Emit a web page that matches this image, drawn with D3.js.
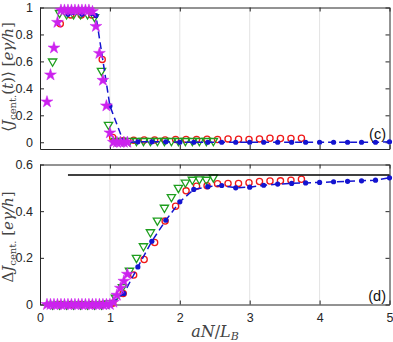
<!DOCTYPE html>
<html>
<head>
<meta charset="utf-8">
<script src="https://cdn.jsdelivr.net/npm/d3@7"></script>
<style>
  body { margin: 0; background: #fff; }
  text { font-family: "Liberation Sans", Arial, sans-serif; }
  .math { font-family: "DejaVu Serif", "Liberation Serif", serif; }
</style>
</head>
<body>
<div id="chart"></div>
<script>
// data
var starX = [0.1,0.15,0.2,0.25,0.3,0.35,0.4,0.45,0.5,0.55,0.6,0.65,0.7,0.75,0.8,0.85,0.9,0.95,1.0,1.05,1.1,1.15,1.2,1.25];
var starTop = [0.30,0.50,0.70,0.89,0.98,0.98,0.98,0.98,0.98,0.98,0.98,0.98,0.98,0.97,0.86,0.66,0.46,0.27,0.07,0.0,0.0,0.0,0.0,0.0];
var starBot = [0,0,0,0,0,0,0,0,0,0,0,0,0,0,0,0,0,0,0,0.01,0.04,0.07,0.10,0.13];

var greenX = [0.18,0.28,0.38,0.48,0.58,0.68,0.78,0.88,0.98,1.08,1.18,1.28,1.38,1.48,1.58,1.68,1.78,1.88,1.98,2.08,2.18,2.28,2.38,2.48];
var greenTop = [0.60,0.96,0.95,0.95,0.95,0.95,0.93,0.53,0.13,0.01,0.01,0.01,0.01,0.01,0.01,0.01,0.01,0.01,0.01,0.01,0.01,0.01,0.01,0.01];
var greenBot = [0,0,0,0,0,0,0,0,0.005,0.03,0.075,0.145,0.20,0.25,0.31,0.36,0.415,0.461,0.50,0.523,0.535,0.537,0.535,0.545];

var redX = [0.29,0.44,0.59,0.74,0.89,1.04,1.19,1.34,1.49,1.64,1.79,1.94,2.09,2.24,2.39,2.54,2.69,2.84,2.99,3.14,3.29,3.44,3.59,3.74];
var redTop = [0.88,0.945,0.945,0.945,0.615,0.035,0.012,0.015,0.017,0.017,0.017,0.02,0.02,0.02,0.022,0.02,0.025,0.022,0.02,0.025,0.03,0.028,0.028,0.03];
var redBot = [0,0,0,0,0,0.005,0.047,0.126,0.193,0.266,0.358,0.421,0.487,0.507,0.509,0.518,0.519,0.519,0.522,0.527,0.529,0.530,0.533,0.537];

var blueX = [0.4,0.6,0.8,1.0,1.2,1.4,1.6,1.8,2.0,2.2,2.4,2.6,2.8,3.0,3.2,3.4,3.6,3.8,4.0,4.2,4.4,4.6,4.8,5.0];
var blueTop = [0.95,0.95,0.94,0.27,-0.003,0.003,0.003,0.003,0.0,0.0,0.0,0.0,0.0,0.0,0.0,0.0,0.0,0.0,0.0,0.0,0.0,0.0,0.0,0.003];
var blueBot = [0,0,0,0,0.047,0.161,0.271,0.361,0.44,0.493,0.505,0.51,0.50,0.503,0.511,0.516,0.519,0.521,0.523,0.526,0.528,0.53,0.533,0.543];

var xTicks = [0,1,2,3,4,5];
var topTicks = [0,0.2,0.4,0.6,0.8,1];
var botTicks = [0,0.2,0.4,0.6];
var limitLine = {x0: 0.4, x1: 5, y: 0.555};

// svg + layout
var svgWidth = 393;
var svgHeight = 342;

var svg = d3.select("#chart")
    .append("svg")
    .attr("width", svgWidth)
    .attr("height", svgHeight);

var xScale = d3.scaleLinear().domain([0, 5]).range([40, 389.5]);
var yTop = d3.scaleLinear().domain([-0.05, 1]).range([149, 7.5]);
var yBot = d3.scaleLinear().domain([0, 0.6]).range([304.5, 164.5]);

var colors = {red: "#f01818", green: "#1e9e1e", blue: "#1414d0", star: "#cc22ee"};

function drawPanel(yScale, yTicks, series, showXLabels) {
    var g = svg.append("g");
    var y0 = yScale.range()[0], y1 = yScale.range()[1];

    // vertical grid
    g.selectAll(".grid").data([1,2,3,4]).enter().append("line")
        .attr("x1", d => xScale(d)).attr("x2", d => xScale(d))
        .attr("y1", y0).attr("y2", y1)
        .attr("stroke", "#e3e3e3").attr("stroke-width", 1);

    // axes, ticks pointing in, mirrored on all sides
    var left = g.append("g").attr("transform", "translate(40,0)")
        .call(d3.axisLeft(yScale).tickValues(yTicks).tickSizeInner(-4).tickSizeOuter(0)
            .tickPadding(7).tickFormat(d3.format("~g")));
    var right = g.append("g").attr("transform", "translate(389.5,0)")
        .call(d3.axisRight(yScale).tickValues(yTicks).tickSizeInner(-4).tickSizeOuter(0).tickFormat(""));
    var bottom = g.append("g").attr("transform", `translate(0,${y0})`)
        .call(d3.axisBottom(xScale).tickValues(xTicks).tickSizeInner(-4).tickSizeOuter(0)
            .tickPadding(9).tickFormat(showXLabels ? d3.format("d") : ""));
    var top = g.append("g").attr("transform", `translate(0,${y1})`)
        .call(d3.axisTop(xScale).tickValues(xTicks).tickSizeInner(-4).tickSizeOuter(0).tickFormat(""));

    [left, right, bottom, top].forEach(function(a) {
        a.selectAll("path").attr("stroke", "#262626");
        a.selectAll("line").attr("stroke", "#262626");
        a.selectAll("text").attr("font-size", 12.5).attr("fill", "#262626")
            .style("font-family", "'Liberation Sans', Arial, sans-serif");
    });

    var marks = g.append("g");

    // red open circles
    marks.selectAll(".red").data(series.red).enter().append("circle")
        .attr("cx", d => xScale(d[0])).attr("cy", d => yScale(d[1]))
        .attr("r", 3.1).attr("fill", "none")
        .attr("stroke", colors.red).attr("stroke-width", 1.3);

    // green down triangles
    marks.selectAll(".green").data(series.green).enter().append("path")
        .attr("d", d3.symbol().type(d3.symbolTriangle).size(30))
        .attr("transform", d => `translate(${xScale(d[0])},${yScale(d[1])}) rotate(180)`)
        .attr("fill", "none").attr("stroke", colors.green).attr("stroke-width", 1.3);

    // blue dashed line with filled dots
    var line = d3.line().x(d => xScale(d[0])).y(d => yScale(d[1]));
    marks.append("path").datum(series.blue)
        .attr("d", line).attr("fill", "none")
        .attr("stroke", colors.blue).attr("stroke-width", 1.5)
        .attr("stroke-dasharray", "7,4");
    marks.selectAll(".blue").data(series.blue).enter().append("circle")
        .attr("cx", d => xScale(d[0])).attr("cy", d => yScale(d[1]))
        .attr("r", 2.6).attr("fill", colors.blue);

    // magenta stars
    marks.selectAll(".star").data(series.star).enter().append("path")
        .attr("d", d3.symbol().type(d3.symbolStar).size(44))
        .attr("transform", d => `translate(${xScale(d[0])},${yScale(d[1])})`)
        .attr("fill", colors.star).attr("stroke", colors.star).attr("stroke-width", 0.5);

    return g;
}

function pairs(xs, ys) { return xs.map((x, i) => [x, ys[i]]); }

var topPanel = drawPanel(yTop, topTicks, {
    red: pairs(redX, redTop), green: pairs(greenX, greenTop),
    blue: pairs(blueX, blueTop), star: pairs(starX, starTop)
}, false);

var botPanel = drawPanel(yBot, botTicks, {
    red: pairs(redX, redBot), green: pairs(greenX, greenBot),
    blue: pairs(blueX, blueBot), star: pairs(starX, starBot)
}, true);

// black reference line in panel (d)
botPanel.append("line")
    .attr("x1", xScale(limitLine.x0)).attr("x2", xScale(limitLine.x1))
    .attr("y1", yBot(limitLine.y)).attr("y2", yBot(limitLine.y))
    .attr("stroke", "#000").attr("stroke-width", 1.6);

// panel tags
svg.append("text").attr("x", 386).attr("y", 139).attr("text-anchor", "end")
    .attr("font-size", 14.5).attr("fill", "#111").text("(c)");
svg.append("text").attr("x", 386).attr("y", 301).attr("text-anchor", "end")
    .attr("font-size", 14.5).attr("fill", "#111").text("(d)");

// y labels
var ylab1 = svg.append("text").attr("class", "math")
    .attr("transform", "translate(13,77) rotate(-90)")
    .attr("text-anchor", "middle").attr("font-size", 15).attr("fill", "#444");
ylab1.append("tspan").text("⟨");
ylab1.append("tspan").attr("font-style", "italic").text("J");
ylab1.append("tspan").attr("font-size", 10).attr("dy", 2.5).text("cent.");
ylab1.append("tspan").attr("dy", -2.5).text("(");
ylab1.append("tspan").attr("font-style", "italic").text("t");
ylab1.append("tspan").text(")⟩ [");
ylab1.append("tspan").attr("font-style", "italic").text("eγ/h");
ylab1.append("tspan").text("]");

var ylab2 = svg.append("text").attr("class", "math")
    .attr("transform", "translate(13,237) rotate(-90)")
    .attr("text-anchor", "middle").attr("font-size", 15).attr("fill", "#444");
ylab2.append("tspan").text("Δ");
ylab2.append("tspan").attr("font-style", "italic").text("J");
ylab2.append("tspan").attr("font-size", 10).attr("dy", 2.5).text("cent.");
ylab2.append("tspan").attr("dy", -2.5).text(" [");
ylab2.append("tspan").attr("font-style", "italic").text("eγ/h");
ylab2.append("tspan").text("]");

// x label
var xlab = svg.append("text").attr("class", "math")
    .attr("x", 215).attr("y", 337)
    .attr("text-anchor", "middle").attr("font-size", 16).attr("fill", "#444");
xlab.append("tspan").attr("font-style", "italic").text("aN");
xlab.append("tspan").text("/");
xlab.append("tspan").attr("font-style", "italic").text("L");
xlab.append("tspan").attr("font-style", "italic").attr("font-size", 11).attr("dy", 3).text("B");
</script>
</body>
</html>
